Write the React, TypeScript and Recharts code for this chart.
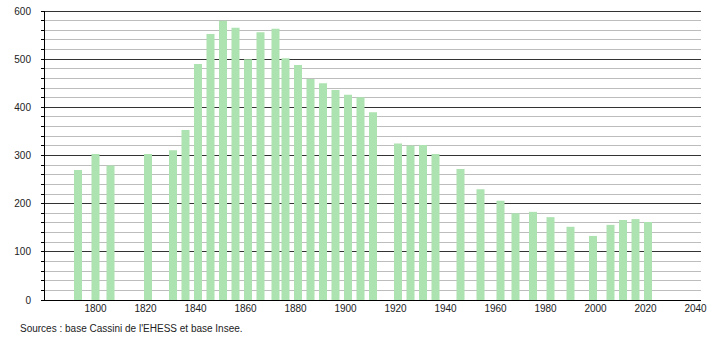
import { BarChart, Bar, XAxis, YAxis, CartesianGrid } from "recharts";

// census years and population
const years = [
  1793, 1800, 1806, 1821, 1831, 1836, 1841, 1846, 1851, 1856,
  1861, 1866, 1872, 1876, 1881, 1886, 1891, 1896, 1901, 1906,
  1911, 1921, 1926, 1931, 1936, 1946, 1954, 1962, 1968, 1975,
  1982, 1990, 1999, 2006, 2011, 2016, 2021,
];
const population = [
  270, 303, 279, 303, 311, 353, 490, 552, 580, 565,
  500, 556, 563, 502, 488, 459, 450, 436, 426, 421,
  390, 325, 321, 322, 303, 272, 230, 206, 180, 183,
  172, 152, 133, 156, 166, 168, 162,
];

const xTicks = [1800, 1820, 1840, 1860, 1880, 1900, 1920, 1940, 1960, 1980, 2000, 2020, 2040];
const yTicks = [
  0, 20, 40, 60, 80, 100, 120, 140, 160, 180, 200, 220, 240, 260, 280, 300,
  320, 340, 360, 380, 400, 420, 440, 460, 480, 500, 520, 540, 560, 580, 600,
];
const majorLines = [100, 200, 300, 400, 500, 600];
const minorLines = yTicks.filter((v) => v % 100 !== 0);

const data = years.map((year, i) => ({ year, pop: population[i] }));

const font = "'Liberation Sans', Arial, sans-serif";

export default function App() {
  return (
    <div style={{ position: "absolute", left: 0, top: 0, width: 710, height: 340, background: "#fff", fontFamily: font }}>
      <BarChart width={710} height={340} data={data} margin={{ top: 11, right: 9, bottom: 20, left: 0 }}>
        <CartesianGrid
          vertical={false}
          horizontalValues={minorLines}
          stroke="#bdbdbd"
          shapeRendering="crispEdges"
        />
        <CartesianGrid
          vertical={false}
          horizontalValues={majorLines}
          stroke="#333"
          shapeRendering="crispEdges"
        />
        <XAxis
          dataKey="year"
          type="number"
          domain={[1779.4, 2042.2]}
          allowDataOverflow
          ticks={xTicks}
          tickLine={false}
          tickSize={0}
          tickMargin={5}
          axisLine={{ stroke: "#000", shapeRendering: "crispEdges" }}
          tick={{ fontSize: 10, fill: "#222", fontFamily: font }}
          height={20}
        />
        <YAxis
          type="number"
          domain={[0, 600]}
          ticks={yTicks}
          interval={0}
          width={44}
          tickSize={3}
          tickMargin={10}
          tickLine={{ stroke: "#000", shapeRendering: "crispEdges" }}
          axisLine={{ stroke: "#000", shapeRendering: "crispEdges" }}
          tickFormatter={(v: number) => (v % 100 === 0 ? String(v) : "")}
          tick={{ fontSize: 10, fill: "#222", fontFamily: font }}
        />
        <Bar dataKey="pop" fill="#ade2b1" barSize={8} isAnimationActive={false} />
      </BarChart>
      <div style={{ position: "absolute", left: 20, top: 323, fontSize: 10, color: "#222", whiteSpace: "nowrap" }}>
        Sources : base Cassini de l'EHESS et base Insee.
      </div>
    </div>
  );
}
